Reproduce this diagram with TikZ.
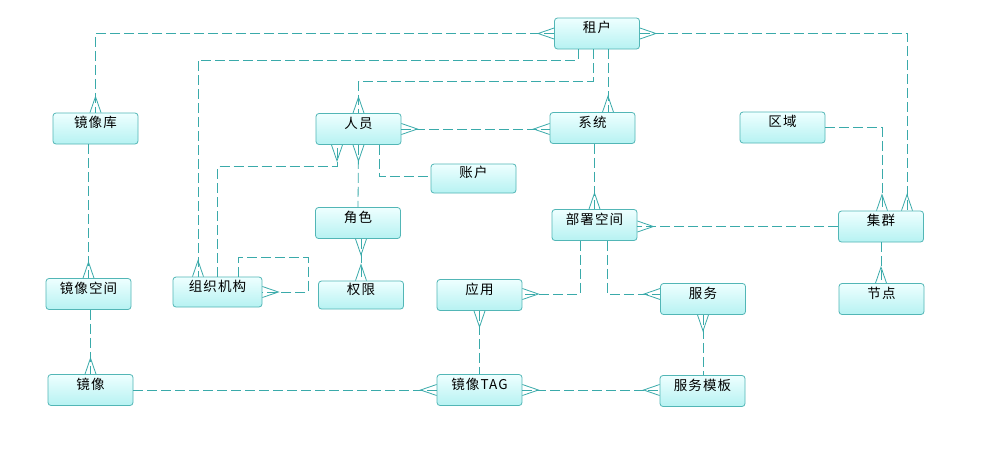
\documentclass[tikz,border=0pt]{standalone}
\usepackage{fontspec}
\newfontfamily\cjk[LetterSpace=8]{Noto Sans CJK SC}
\usetikzlibrary{calc}
\definecolor{edgecol}{RGB}{58,170,170}
\definecolor{boxline}{RGB}{82,182,182}
\definecolor{boxtop}{RGB}{238,255,255}
\definecolor{boxbot}{RGB}{182,242,242}
\tikzset{
  ent/.style={draw=boxline, line width=0.8pt, rounded corners=3pt,
    top color=boxtop, bottom color=boxbot,
    minimum width=85pt, minimum height=31pt, inner sep=0pt,
    text height=10pt, text depth=12pt,
    font=\cjk\fontsize{13.5}{15}\selectfont},
  rel/.style={draw=edgecol, line width=0.8pt, dash pattern=on 10pt off 4pt},
  foot/.style={draw=edgecol, line width=0.8pt, solid}
}
\newcommand\cf[3]{\draw[foot] ($(#1)+(#3*5.5,#2*5.5)$) -- ($(#1)+(#2*16,#3*16)$) -- ($(#1)-(#3*5.5,#2*5.5)$);}
\begin{document}
\begin{tikzpicture}[x=1pt,y=-1pt]
\useasboundingbox[fill=white] (0,0) rectangle (1000,450);
% entities
\node[ent] (zh)   at (597,33.5) {租户};
\node[ent] (jxk)  at (95.5,128.5) {镜像库};
\node[ent] (ry)   at (358.5,129) {人员};
\node[ent] (xt)   at (592.5,128) {系统};
\node[ent] (qy)   at (782.5,127.5) {区域};
\node[ent, minimum height=29pt] (zhh)  at (473.5,178.5) {账户};
\node[ent] (bs)   at (594.5,225) {部署空间};
\node[ent] (yy)   at (479.5,295) {应用};
\node[ent] (fw)   at (703,299) {服务};
\node[ent] (js)   at (358,223) {角色};
\node[ent, minimum height=28pt] (qx)   at (361,295) {权限};
\node[ent, minimum width=89pt, minimum height=30pt] (zz) at (217.5,292) {组织机构};
\node[ent] (jq)   at (881,226.5) {集群};
\node[ent] (jd)   at (881.5,299) {节点};
\node[ent] (jxkj) at (88.5,294) {镜像空间};
\node[ent] (jx)   at (90.5,390) {镜像};
\node[ent] (tag)  at (479.5,390) {镜像TAG};
\node[ent] (fwmb) at (702.5,391) {服务模板};
% helper coordinates
\coordinate (z1) at ($(zh.south)+(-19,0)$);
\coordinate (zz1) at ($(zz.north)+(-19.5,0)$);
\coordinate (z2) at ($(zh.south)+(-4,0)$);
\coordinate (z3) at ($(zh.south)+(11,0)$);
\coordinate (x3) at (z3 |- xt.north);
\coordinate (jq1) at ($(jq.north)+(26,0)$);
\coordinate (jq2) at ($(jq.north)+(1,0)$);
\coordinate (b1) at ($(bs.south)+(-14.5,0)$);
\coordinate (b2) at ($(bs.south)+(12.5,0)$);
\coordinate (fwl) at ($(fw.west)+(0,-5)$);
\coordinate (yyr) at ($(yy.east)+(0,-1)$);
\coordinate (r1) at ($(ry.south)+(-21.5,0)$);
\coordinate (r2) at ($(ry.south)+(20.5,0)$);
\coordinate (zhl) at ($(zhh.west)+(0,-2.5)$);
\coordinate (zz2) at ($(zz.north)+(20.5,0)$);
\coordinate (xr) at (ry.east -| xt.west);
\coordinate (bsr) at (jq.west -| bs.east);
\coordinate (jdn) at (jq.south |- jd.north);
\coordinate (fwt) at (fw.south |- fwmb.north);
\coordinate (tagr) at (tag.east -| fwmb.west);
\coordinate (qxt) at (qx.north |- js.south);
\coordinate (jxkb) at (jxkj.north |- jxk.south);
\coordinate (jxkjb) at (jx.north |- jxkj.south);
\coordinate (xtb) at (bs.north |- xt.south);
% connectors
\draw[rel] (zh.west) -| (jxk.north);
\cf{zh.west}{-1}{0}\cf{jxk.north}{0}{-1}
\draw[rel] (z1) -- ++(0,10.5) -| (zz1);
\cf{zz1}{0}{-1}
\draw[rel] (z2) -- ++(0,31.5) -| (ry.north);
\cf{ry.north}{0}{-1}
\draw[rel] (z3) -- (x3);
\cf{x3}{0}{-1}
\draw[rel] (ry.east) -- (xr);
\cf{ry.east}{1}{0}\cf{xr}{-1}{0}
\draw[rel] (zh.east) -| (jq1);
\cf{zh.east}{1}{0}\cf{jq1}{0}{-1}
\draw[rel] (qy.east) -| (jq2);
\cf{jq2}{0}{-1}
\draw[rel] (xtb) -- (bs.north);
\cf{bs.north}{0}{-1}
\draw[rel] (jq.west) -- (bsr);
\cf{bsr}{1}{0}
\draw[rel] (jq.south) -- (jdn);
\cf{jdn}{0}{-1}
\draw[rel] (b1) |- (yyr);
\cf{yyr}{1}{0}
\draw[rel] (b2) |- (fwl);
\cf{fwl}{-1}{0}
\draw[rel] (yy.south) -- (tag.north);
\cf{yy.south}{0}{1}
\draw[rel] (fw.south) -- (fwt);
\cf{fw.south}{0}{1}
\draw[rel] (jx.east) -- (tag.west);
\cf{tag.west}{-1}{0}
\draw[rel] (tag.east) -- (tagr);
\cf{tag.east}{1}{0}\cf{tagr}{-1}{0}
\draw[rel] (jxkb) -- (jxkj.north);
\cf{jxkj.north}{0}{-1}
\draw[rel] (jxkjb) -- (jx.north);
\cf{jx.north}{0}{-1}
\draw[rel] (qxt) -- (qx.north);
\cf{qxt}{0}{1}\cf{qx.north}{0}{-1}
\draw[rel] (ry.south) -- (js.north);
\cf{ry.south}{0}{1}
\draw[rel] (zz.north) -- ++(0,-110) -| (r1);
\cf{r1}{0}{1}
\draw[rel] (r2) |- (zhl);
\draw[rel] (zz2) |- ++(70,-19) |- (zz.east);
\cf{zz.east}{1}{0}
\end{tikzpicture}
\end{document}
